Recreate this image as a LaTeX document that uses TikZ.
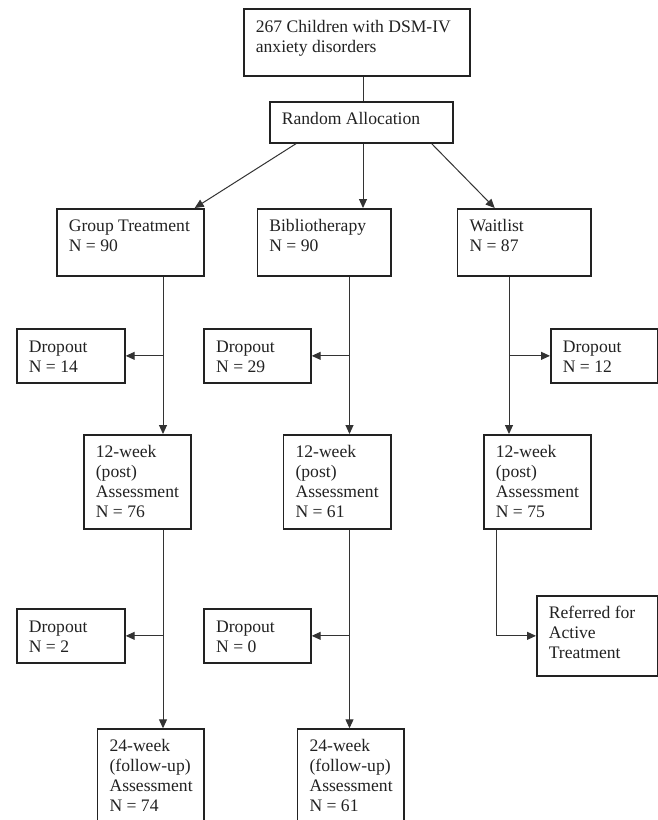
\documentclass[tikz,border=0pt]{standalone}
\usepackage{fontspec}
\setmainfont{Liberation Serif}
\usetikzlibrary{arrows.meta,calc}
\definecolor{ink}{HTML}{222222}
\definecolor{lineink}{HTML}{333333}
\newcommand\bxt[4]{\parbox[c][#2][t]{#1}{\raggedright\leftskip=12pt\relax\vspace*{#3}\rule{0pt}{13pt}#4}}
\begin{document}
\begin{tikzpicture}[x=1pt,y=-1pt,
  box/.style={draw=ink,line width=1.7pt,inner sep=0pt,anchor=north west,rectangle,text=ink,
    font=\fontsize{17.6pt}{20pt}\selectfont},
  conn/.style={draw=lineink,line width=1pt},
  arr/.style={conn,-{Triangle[length=9pt,width=8pt]}}]
\useasboundingbox (0,0) rectangle (658,820);
\fill[white] (0,0) rectangle (658,820);
\clip (0,0) rectangle (658,820);
% boxes
\node[box] (top) at (243,8) {\bxt{226pt}{67pt}{10.4pt}{267 Children with DSM-IV\\anxiety disorders}};
\node[box] (ra) at (269,101) {\bxt{183pt}{41pt}{10pt}{Random Allocation}};
\node[box] (gt) at (56,208) {\bxt{147pt}{67pt}{10pt}{Group Treatment\\N = 90}};
\node[box] (bib) at (256.5,208) {\bxt{133.5pt}{67pt}{10pt}{Bibliotherapy\\N = 90}};
\node[box] (wl) at (456.7,208) {\bxt{133.3pt}{67pt}{10pt}{Waitlist\\N = 87}};
\node[box] (d1) at (16,328) {\bxt{108pt}{54pt}{10.5pt}{Dropout\\N = 14}};
\node[box] (d2) at (203.3,328) {\bxt{106.7pt}{54pt}{10.5pt}{Dropout\\N = 29}};
\node[box] (d3) at (550,328) {\bxt{107pt}{54pt}{10.5pt}{Dropout\\N = 12}};
\node[box] (g12) at (83,434) {\bxt{107pt}{94pt}{10pt}{12-week\\(post)\\Assessment\\N = 76}};
\node[box] (b12) at (282.7,434) {\bxt{107.3pt}{94pt}{10pt}{12-week\\(post)\\Assessment\\N = 61}};
\node[box] (w12) at (483,434) {\bxt{107pt}{94pt}{10pt}{12-week\\(post)\\Assessment\\N = 75}};
\node[box] (d4) at (16,608) {\bxt{108pt}{54pt}{10.5pt}{Dropout\\N = 2}};
\node[box] (d5) at (203.3,608) {\bxt{106.7pt}{54pt}{10.5pt}{Dropout\\N = 0}};
\node[box] (ref) at (536,595) {\bxt{121pt}{80pt}{10pt}{Referred for\\Active\\Treatment}};
\node[box] (g24) at (96.7,728.3) {\bxt{106.6pt}{110pt}{9.5pt}{24-week\\(follow-up)\\Assessment\\N = 74}};
\node[box] (b24) at (296.7,728.3) {\bxt{106.6pt}{110pt}{9.5pt}{24-week\\(follow-up)\\Assessment\\N = 61}};
% column guides
\coordinate (xA) at (363,0);
\coordinate (xG) at (163,0);
\coordinate (xB) at (349.5,0);
\coordinate (xW) at (509,0);
\coordinate (xW2) at (496,0);
% connectors
\draw[conn] (xA |- top.south) -- (xA |- ra.north);
\draw[arr] ($(ra.south west)+(27,0)$) -- ($(gt.north east)+(-10,0)$);
\draw[arr] (xA |- ra.south) -- (xA |- bib.north);
\draw[arr] ($(ra.south east)+(-22,0)$) -- ($(wl.north west)+(38,0)$);
\draw[arr] (xG |- gt.south) -- (xG |- g12.north);
\draw[arr] (xG |- d1.east) -- (d1.east);
\draw[arr] (xB |- bib.south) -- (xB |- b12.north);
\draw[arr] (xB |- d2.east) -- (d2.east);
\draw[arr] (xW |- wl.south) -- (xW |- w12.north);
\draw[arr] (xW |- d3.west) -- (d3.west);
\draw[arr] (xG |- g12.south) -- (xG |- g24.north);
\draw[arr] (xG |- d4.east) -- (d4.east);
\draw[arr] (xB |- b12.south) -- (xB |- b24.north);
\draw[arr] (xB |- d5.east) -- (d5.east);
\draw[arr] (xW2 |- w12.south) |- (ref.west);
\end{tikzpicture}
\end{document}
